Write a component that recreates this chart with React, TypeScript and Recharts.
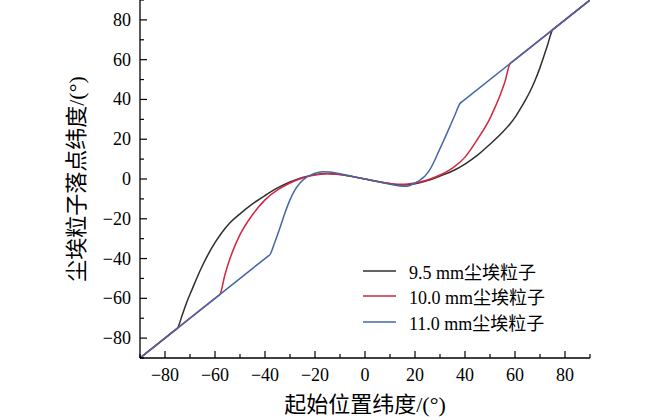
import React from 'react';
import { LineChart, Line, XAxis, YAxis, Legend } from 'recharts';

const FONT = '"Liberation Serif", "Times New Roman", "Noto Sans CJK SC", serif';

const axisTicks = [-90, -80, -70, -60, -50, -40, -30, -20, -10, 0, 10, 20, 30, 40, 50, 60, 70, 80, 90];

const xTitle = '起始位置纬度/(°)';
const yTitle = '尘埃粒子落点纬度/(°)';

const seriesNames = ['9.5 mm尘埃粒子', '10.0 mm尘埃粒子', '11.0 mm尘埃粒子'];
const seriesColors = ['#2f2f2f', '#d3263f', '#4467a6'];

const blackX = [-90, -76, -75, -73, -71, -69, -67, -65, -63, -60, -57, -54, -50, -45, -40, -35, -30, -25, -20, -15, -10, -5, 0, 5, 10, 15, 20, 25, 30, 35, 40, 45, 50, 55, 58, 60, 62, 64, 66, 68, 70, 73, 75, 76, 90];
const blackY = [-90, -76, -75, -68, -61, -55, -49, -43.5, -38.5, -32, -26.5, -22, -17.5, -12.5, -8.3, -4.5, -1.5, 0.8, 2.2, 2.8, 2.3, 1.2, 0, -1.3, -2.4, -3, -2.4, -0.8, 1.5, 4, 7.5, 12, 17.5, 23.5, 27.7, 31, 35, 39.3, 44, 49.5, 56, 67.3, 75, 76, 90];

const redX = [-90, -59, -58, -56, -54, -52, -50, -45, -40, -35, -30, -25, -20, -15, -10, -5, 0, 5, 10, 15, 20, 25, 30, 35, 40, 45, 50, 52, 54, 56, 58, 59, 90];
const redY = [-90, -59, -58, -48, -40, -33.5, -28, -18, -10.5, -5.5, -2, 0.5, 2, 2.7, 2.2, 1.2, 0, -1.2, -2.2, -2.7, -2, -0.5, 2, 5.5, 11, 20, 30.5, 36, 42, 49, 58, 59, 90];

const blueX = [-90, -39, -38, -36, -34, -32, -30, -28, -26, -24, -22, -20, -17, -14, -10, -5, 0, 5, 10, 14, 17, 20, 22, 24, 26, 28, 30, 32, 34, 36, 38, 39, 90];
const blueY = [-90, -39, -38, -31.5, -24.5, -17, -10.5, -5.5, -2, 0.3, 1.8, 2.9, 3.7, 3.5, 2.6, 1.3, 0, -1.3, -2.6, -3.5, -3.6, -2, -0.5, 1.5, 4.8, 9.7, 15.3, 20.8, 26.5, 32.3, 38, 39, 90];

const toPoints = (xs: number[], ys: number[]) => xs.map((x, i) => ({ x, y: ys[i] }));

const blackData = toPoints(blackX, blackY);
const redData = toPoints(redX, redY);
const blueData = toPoints(blueX, blueY);

const fmt = (v: number) => (v < 0 ? '\u2212' + Math.abs(v) : String(v));

const XTick = (props: any) => {
  const { x, y, payload } = props;
  const v = payload.value;
  const major = v % 20 === 0;
  return (
    <g>
      <line x1={x} x2={x} y1={y} y2={y - (major ? 7 : 4)} stroke="#000" strokeWidth={1.2} />
      {major && (
        <text x={x} y={y + 23} textAnchor="middle" fontSize={18} fontFamily={FONT} fill="#000">
          {fmt(v)}
        </text>
      )}
    </g>
  );
};

const YTick = (props: any) => {
  const { x, y, payload } = props;
  const v = payload.value;
  const major = v % 20 === 0;
  return (
    <g>
      <line x1={x} x2={x + (major ? 7 : 4)} y1={y} y2={y} stroke="#000" strokeWidth={1.2} />
      {major && (
        <text x={x - 9} y={y + 6} textAnchor="end" fontSize={18} fontFamily={FONT} fill="#000">
          {fmt(v)}
        </text>
      )}
    </g>
  );
};

const XLabel = (props: any) => {
  const vb = props.viewBox || { x: 140, y: 358, width: 450, height: 62 };
  const cx = vb.x + vb.width / 2;
  return (
    <text x={cx} y={vb.y + 54} textAnchor="middle" fontSize={22} fontFamily={FONT} fill="#000">
      {xTitle}
    </text>
  );
};

const YLabel = (props: any) => {
  const vb = props.viewBox || { x: 0, y: 0, width: 140, height: 358 };
  const cx = 76;
  const cy = vb.y + vb.height / 2;
  return (
    <text
      x={cx}
      y={cy}
      transform={`rotate(-90, ${cx}, ${cy})`}
      textAnchor="middle"
      dominantBaseline="central"
      fontSize={22}
      fontFamily={FONT}
      fill="#000"
    >
      {yTitle}
    </text>
  );
};

const LegendContent = () => (
  <div style={{ fontFamily: FONT, fontSize: 18, color: '#000' }}>
    {seriesNames.map((n, i) => (
      <div key={n} style={{ display: 'flex', alignItems: 'center', height: 25.5, whiteSpace: 'nowrap' }}>
        <svg width={33} height={4} style={{ display: 'block' }}>
          <line x1={0} x2={33} y1={2} y2={2} stroke={seriesColors[i]} strokeWidth={1.5} />
        </svg>
        <span style={{ marginLeft: 13 }}>{n}</span>
      </div>
    ))}
  </div>
);

export default function App() {
  return (
    <div style={{ position: 'absolute', left: 0, top: 0 }}>
      <LineChart width={650} height={420} margin={{ top: 0, right: 60, bottom: 0, left: 0 }}>
        <XAxis
          type="number"
          dataKey="x"
          domain={[-90, 90]}
          ticks={axisTicks}
          interval={0}
          tickSize={0}
          tickMargin={0}
          tickLine={false}
          tick={<XTick />}
          height={62}
          axisLine={{ stroke: '#000', strokeWidth: 1.3 }}
          allowDataOverflow
          label={XLabel}
        />
        <YAxis
          type="number"
          dataKey="y"
          domain={[-90, 90]}
          ticks={axisTicks}
          interval={0}
          tickSize={0}
          tickMargin={0}
          tickLine={false}
          tick={<YTick />}
          width={140}
          axisLine={{ stroke: '#000', strokeWidth: 1.3 }}
          allowDataOverflow
          label={YLabel}
        />
        <Legend
          layout="vertical"
          align="center"
          verticalAlign="middle"
          content={<LegendContent />}
          wrapperStyle={{ position: 'absolute', left: 363, top: 258, width: 240 }}
        />
        <Line data={blackData} dataKey="y" name={seriesNames[0]} type="monotone" stroke={seriesColors[0]} strokeWidth={1.5} dot={false} isAnimationActive={false} />
        <Line data={redData} dataKey="y" name={seriesNames[1]} type="monotone" stroke={seriesColors[1]} strokeWidth={1.5} dot={false} isAnimationActive={false} />
        <Line data={blueData} dataKey="y" name={seriesNames[2]} type="monotone" stroke={seriesColors[2]} strokeWidth={1.5} dot={false} isAnimationActive={false} />
      </LineChart>
    </div>
  );
}
